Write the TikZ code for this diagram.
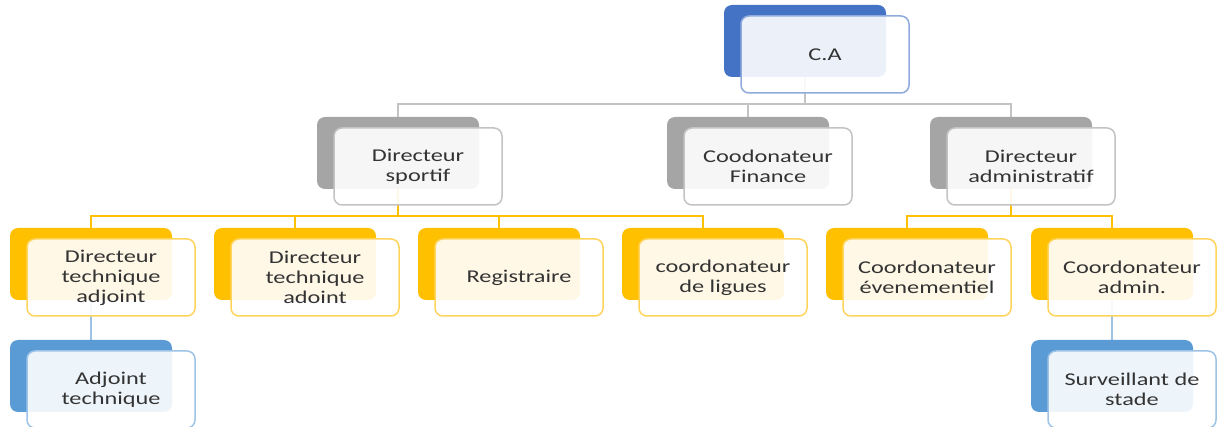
\documentclass[tikz,border=0pt]{standalone}
\usepackage{fontspec}
\setmainfont[FakeStretch=1.35]{Carlito}
\usetikzlibrary{positioning,backgrounds}
\definecolor{orgBlue}{HTML}{4472C4}
\definecolor{orgBlueLine}{HTML}{8FAADC}
\definecolor{orgGray}{HTML}{A5A5A5}
\definecolor{orgGrayLine}{HTML}{C3C3C3}
\definecolor{orgYellow}{HTML}{FFC000}
\definecolor{orgYellowLine}{HTML}{FFD45C}
\definecolor{orgSky}{HTML}{5B9BD5}
\definecolor{orgSkyLine}{HTML}{9DC3E6}
\definecolor{orgText}{HTML}{333333}

\tikzset{
    backbox/.style={rectangle, rounded corners=8pt, minimum width=162pt, minimum height=72pt, inner sep=0pt, outer sep=0pt, anchor=north west},
    frontbox/.style={rectangle, rounded corners=8pt, minimum width=168pt, minimum height=77pt, inner sep=0pt, outer sep=0pt, anchor=north west,
        fill=white, fill opacity=0.9, text opacity=1, line width=1.5pt, text=orgText, align=center,
        font=\fontsize{18}{20}\selectfont},
    link/.style={line width=1.5pt}
}

% #1 name, #2 left, #3 top, #4 colour, #5 text
\newcommand{\orgbox}[5]{
    \node[backbox, fill=#4] (#1-bk) at (#2,-#3) {};
    \node[frontbox, draw=#4Line] (#1) at ([xshift=17pt,yshift=-11pt]#1-bk.north west) {#5};
}

\begin{document}
\begin{tikzpicture}[x=1pt, y=1pt]
    \useasboundingbox (0,0) rectangle (1219,-427);

    \orgbox{ca}{724}{5}{orgBlue}{C.A}

    \orgbox{dirsport}{317}{117}{orgGray}{Directeur\\sportif}
    \orgbox{coofin}{667}{117}{orgGray}{Coodonateur\\Finance}
    \orgbox{diradmin}{930}{117}{orgGray}{Directeur\\administratif}

    \orgbox{dta}{10}{228}{orgYellow}{Directeur\\technique\\adjoint}
    \orgbox{dtad}{214}{228}{orgYellow}{Directeur\\technique\\adoint}
    \orgbox{regis}{418}{228}{orgYellow}{Registraire}
    \orgbox{coolig}{622}{228}{orgYellow}{coordonateur\\de ligues}
    \orgbox{cooevt}{826}{228}{orgYellow}{Coordonateur\\évenementiel}
    \orgbox{cooadm}{1031}{228}{orgYellow}{Coordonateur\\admin.}

    \orgbox{adjtech}{10}{340}{orgSky}{Adjoint\\technique}
    \orgbox{surv}{1031}{340}{orgSky}{Surveillant de\\stade}

    \begin{scope}[on background layer]
        \draw[link, orgGrayLine] (ca-bk.south) -- ++(0,-27) -| (dirsport-bk.north)
            (ca-bk.south) ++(0,-27) -| (coofin-bk.north)
            (ca-bk.south) ++(0,-27) -| (diradmin-bk.north);
        \foreach \kid in {dta, dtad, regis, coolig}
            \draw[link, orgYellow] (dirsport-bk.south) -- ++(0,-27) -| (\kid-bk.north);
        \foreach \kid in {cooevt, cooadm}
            \draw[link, orgYellow] (diradmin-bk.south) -- ++(0,-27) -| (\kid-bk.north);
        \draw[link, orgSkyLine] (dta-bk.south) -- (adjtech-bk.north);
        \draw[link, orgSkyLine] (cooadm-bk.south) -- (surv-bk.north);
    \end{scope}
\end{tikzpicture}
\end{document}
